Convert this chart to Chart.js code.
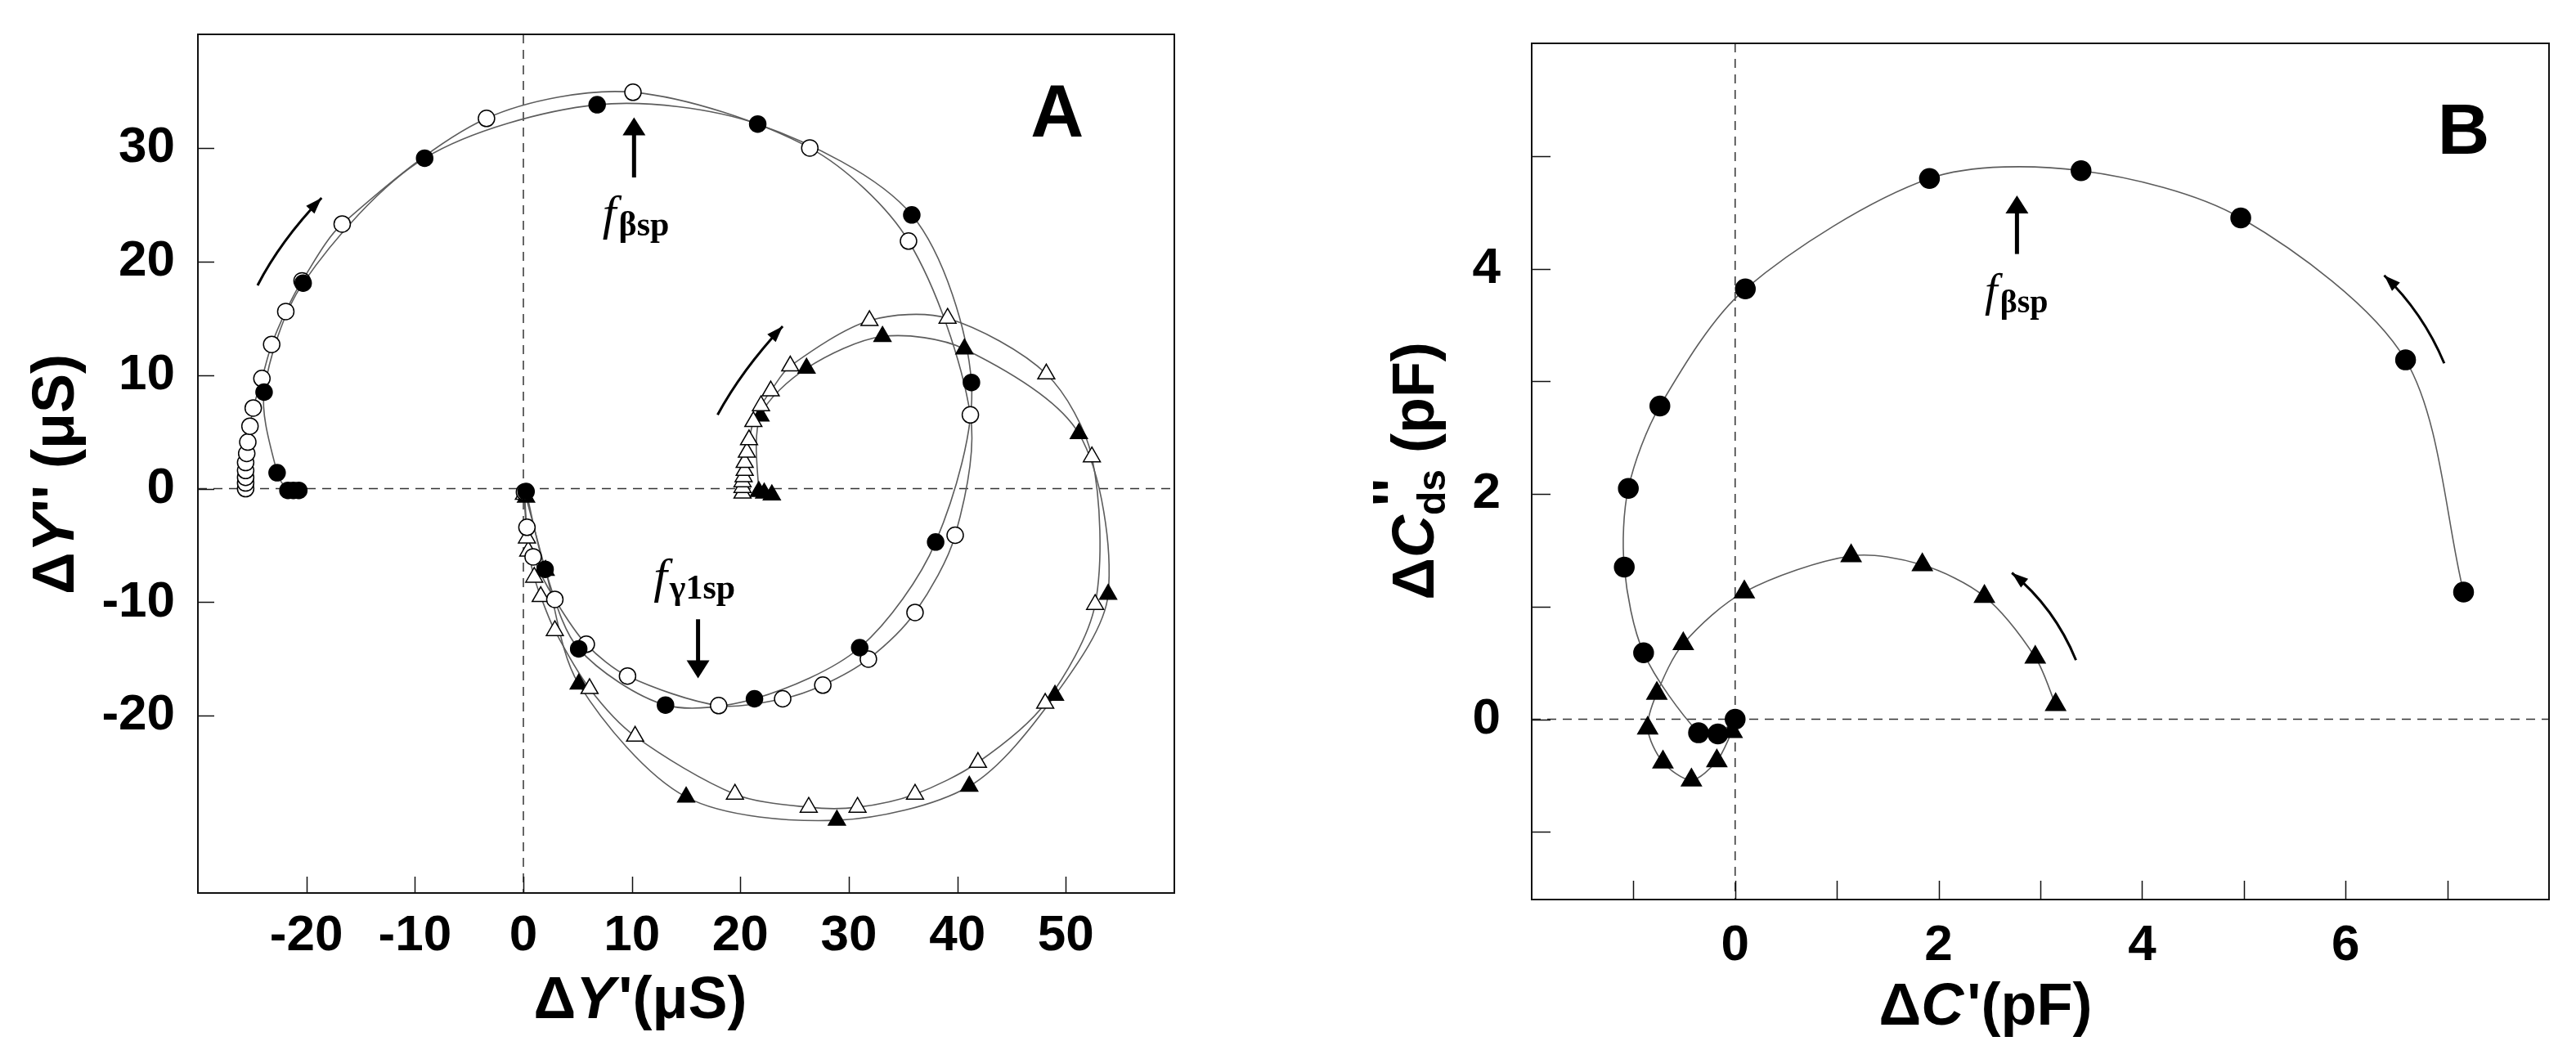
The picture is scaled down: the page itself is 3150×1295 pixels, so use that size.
<!DOCTYPE html>
<html>
<head>
<meta charset="utf-8">
<script src="https://cdn.jsdelivr.net/npm/chart.js@4.4.1/dist/chart.umd.min.js"></script>
<style>
  html, body { margin: 0; padding: 0; background: #fff; }
  #wrap { position: relative; width: 3150px; height: 1295px; background: #fff; }
  canvas { position: absolute; top: 0; }
  #chartA { left: 0; }
  #chartB { left: 1575px; }
</style>
</head>
<body>
<div id="wrap">
  <canvas id="chartA" width="1575" height="1295"></canvas>
  <canvas id="chartB" width="1575" height="1295"></canvas>
</div>
<script>
// ---- Panel A : admittance spirals, ΔY' vs ΔY'' (µS) ----
const xTicksA = [-20, -10, 0, 10, 20, 30, 40, 50];
const yTicksA = [-20, -10, 0, 10, 20, 30];

const filledCircleAX = [-20.7, -21.2, -21.7, -22.7, -23.9, -20.3, -9.1, 6.8, 21.6, 35.8, 41.3, 38.0, 31.0, 21.3, 13.1, 5.1, 2.0, 0.25];
const filledCircleAY = [-0.15, -0.15, -0.15, 1.4, 8.5, 18.1, 29.1, 33.8, 32.1, 24.1, 9.35, -4.7, -14.0, -18.5, -19.05, -14.1, -7.1, -0.25];

const openCircleAX = [-25.6, -25.6, -25.6, -25.6, -25.6, -25.5, -25.4, -25.2, -24.9, -24.1, -23.2, -21.9, -20.4, -16.7, -3.4, 10.1, 26.4, 35.5, 41.2, 39.8, 36.1, 31.8, 27.6, 23.9, 18.0, 9.6, 5.8, 2.9, 0.9, 0.33, 0.1];
const openCircleAY = [0.0, 0.5, 1.0, 1.6, 2.3, 3.1, 4.1, 5.5, 7.1, 9.7, 12.7, 15.6, 18.3, 23.3, 32.6, 34.9, 30.0, 21.8, 6.5, -4.1, -10.9, -15.0, -17.3, -18.5, -19.1, -16.5, -13.7, -9.75, -6.0, -3.4, -0.3];

const openTriangleAX = [20.2, 20.2, 20.2, 20.3, 20.4, 20.4, 20.6, 20.8, 21.2, 21.9, 22.8, 24.6, 31.9, 39.1, 48.2, 52.4, 52.7, 48.1, 41.9, 36.1, 30.8, 26.3, 19.5, 10.3, 6.1, 2.9, 1.6, 1.0, 0.45, 0.33, 0.05];
const openTriangleAY = [-0.4, 0.1, 0.6, 1.05, 1.6, 2.3, 3.2, 4.3, 5.9, 7.3, 8.6, 10.8, 14.8, 15.0, 10.1, 2.8, -10.2, -18.9, -24.1, -26.9, -28.05, -28.05, -26.9, -21.8, -17.6, -12.5, -9.5, -7.8, -5.5, -4.35, -0.5];

const filledTriangleAX = [22.9, 22.2, 21.7, 21.85, 26.1, 33.1, 40.65, 51.2, 53.9, 49.0, 41.1, 28.9, 15.0, 5.1, 2.05, 0.25];
const filledTriangleAY = [-0.55, -0.4, -0.25, 6.4, 10.6, 13.4, 12.3, 4.85, -9.3, -18.2, -26.2, -29.2, -27.15, -17.2, -7.2, -0.75];

// ---- Panel B : capacitance, ΔC' vs ΔCds'' (pF) ----
const xTicksB = [-1, 0, 1, 2, 3, 4, 5, 6, 7];
const xLabelsB = [0, 2, 4, 6];
const yTicksB = [-1, 0, 1, 2, 3, 4, 5];
const yLabelsB = [0, 2, 4];

const circleBX = [7.16, 6.59, 4.97, 3.40, 1.91, 0.10, -0.74, -1.05, -1.09, -0.90, -0.36, -0.17, 0.0];
const circleBY = [1.13, 3.19, 4.45, 4.87, 4.80, 3.82, 2.78, 2.05, 1.35, 0.59, -0.12, -0.13, 0.0];

const triangleBX = [3.15, 2.95, 2.45, 1.84, 1.14, 0.09, -0.51, -0.77, -0.86, -0.71, -0.43, -0.18, -0.03];
const triangleBY = [0.13, 0.55, 1.09, 1.37, 1.45, 1.13, 0.67, 0.23, -0.08, -0.38, -0.54, -0.37, -0.11];

const SANS = "'Liberation Sans', Arial, sans-serif";
const SERIF = "'Liberation Serif', 'Times New Roman', serif";

function pts(xs, ys) {
  return xs.map((v, i) => ({ x: v, y: ys[i] }));
}

// one dataset for the fitted curve, one for the markers on top of it
function series(xs, ys, shape, fill, radius) {
  const data = pts(xs, ys);
  return [
    { data, showLine: true, pointRadius: 0, borderColor: "#5c5c5c", borderWidth: 1.6, tension: 0.3, order: 2 },
    { data, showLine: false, pointStyle: shape, pointRadius: radius, pointHoverRadius: radius,
      backgroundColor: fill, borderColor: "#000", borderWidth: 1.5, order: 1 },
  ];
}

const decor = {
  chartA: {
    tickLen: 20,
    annotations: [
      { type: "letter", text: "A", x: 49.2, y: 31.0, size: 90 },
      { type: "arrow", x: 10.2, from: 27.4, to: 32.7 },
      { type: "flabel", x: 7.3, y: 22.84, sub: "βsp", fSize: 60, subSize: 42 },
      { type: "arrow", x: 16.1, from: -11.5, to: -16.7 },
      { type: "flabel", x: 12.0, y: -9.08, sub: "γ1sp", fSize: 60, subSize: 42 },
      { type: "curve", from: [-24.5, 17.9], ctrl: [-22.4, 21.8], to: [-18.6, 25.6] },
      { type: "curve", from: [17.9, 6.5], ctrl: [20.1, 10.4], to: [23.9, 14.3] },
    ],
    xTitle: { x: 783, y: 1245, runs: [["Δ", ""], ["Y", "italic "], ["'", "", 4], ["(μS)", ""]] },
    yTitle: { x: 90, y: 580, runs: [["Δ", ""], ["Y", "italic "], ["''", "", 0], [" (μS)", ""]] },
  },
  chartB: {
    tickLen: 23,
    annotations: [
      { type: "letter", text: "B", x: 7.16, y: 5.02, size: 88 },
      { type: "arrow", x: 2.77, from: 4.13, to: 4.65 },
      { type: "flabel", x: 2.454, y: 3.67, sub: "βsp", fSize: 56, subSize: 40 },
      { type: "curve", from: [6.97, 3.16], ctrl: [6.76, 3.61], to: [6.38, 3.94] },
      { type: "curve", from: [3.35, 0.525], ctrl: [3.14, 0.99], to: [2.72, 1.30] },
    ],
    xTitle: { x: 853, y: 1253, runs: [["Δ", ""], ["C", "italic "], ["'", "", 4], ["(pF)", ""]] },
    yTitle: { x: 178, y: 576, runs: [["Δ", ""], ["C", "italic "], ["''", "", 0, "over"], ["ds", "", 0, "sub"], [" (pF)", ""]] },
  },
};

function drawTitle(ctx, spec, rotate) {
  const runs = spec.runs.map(([text, style, gap, kind]) => {
    let font = style + "bold 72px " + SANS;
    let dy = 0;
    if (kind === "sub") { font = "bold 48px " + SANS; dy = 14; }
    if (kind === "over") { dy = -24; }
    return { text, font, gap: gap || 0, kind, dy };
  });
  let total = 0;
  for (const r of runs) {
    ctx.font = r.font;
    r.w = ctx.measureText(r.text).width;
    if (r.kind !== "over") total += r.w + r.gap;
  }
  ctx.save();
  ctx.translate(spec.x, spec.y);
  if (rotate) ctx.rotate(-Math.PI / 2);
  ctx.fillStyle = "#000";
  ctx.textBaseline = "alphabetic";
  ctx.textAlign = "left";
  let cx = -total / 2;
  runs.forEach((r, i) => {
    ctx.font = r.font;
    if (r.kind === "over") {
      const next = runs[i + 1];
      ctx.fillText(r.text, cx + (next.w - r.w) / 2, r.dy);
      return;
    }
    ctx.fillText(r.text, cx + r.gap, r.dy);
    cx += r.w + r.gap;
  });
  ctx.restore();
}

function arrowHead(ctx, tipX, tipY, angle, len, half) {
  ctx.beginPath();
  ctx.moveTo(tipX, tipY);
  ctx.lineTo(tipX - len * Math.cos(angle) + half * Math.sin(angle), tipY - len * Math.sin(angle) - half * Math.cos(angle));
  ctx.lineTo(tipX - len * Math.cos(angle) - half * Math.sin(angle), tipY - len * Math.sin(angle) + half * Math.cos(angle));
  ctx.closePath();
  ctx.fill();
}

const decorPlugin = {
  id: "decor",
  beforeDatasetsDraw(chart) {
    const { ctx, chartArea: a, scales } = chart;
    const x0 = scales.x.getPixelForValue(0);
    const y0 = scales.y.getPixelForValue(0);
    ctx.save();
    ctx.strokeStyle = "#333";
    ctx.lineWidth = 1.5;
    ctx.setLineDash([11, 8]);
    ctx.beginPath();
    ctx.moveTo(a.left, y0); ctx.lineTo(a.right, y0);
    ctx.moveTo(x0, a.top); ctx.lineTo(x0, a.bottom);
    ctx.stroke();
    ctx.restore();
  },
  afterDraw(chart) {
    const cfg = decor[chart.canvas.id];
    const { ctx, chartArea: a, scales } = chart;
    const sx = (v) => scales.x.getPixelForValue(v);
    const sy = (v) => scales.y.getPixelForValue(v);
    ctx.save();
    // frame and inward ticks
    ctx.strokeStyle = "#111";
    ctx.lineWidth = 2;
    ctx.strokeRect(a.left, a.top, a.right - a.left, a.bottom - a.top);
    ctx.lineWidth = 1.5;
    ctx.beginPath();
    scales.x.ticks.forEach((t) => {
      const px = Math.round(sx(t.value)) + 0.5;
      ctx.moveTo(px, a.bottom); ctx.lineTo(px, a.bottom - cfg.tickLen);
    });
    scales.y.ticks.forEach((t) => {
      const py = Math.round(sy(t.value)) + 0.5;
      ctx.moveTo(a.left, py); ctx.lineTo(a.left + cfg.tickLen, py);
    });
    ctx.stroke();

    ctx.fillStyle = "#000";
    ctx.strokeStyle = "#000";
    cfg.annotations.forEach((n) => {
      if (n.type === "letter") {
        ctx.font = "bold " + n.size + "px " + SANS;
        ctx.textAlign = "center";
        ctx.textBaseline = "alphabetic";
        ctx.fillText(n.text, sx(n.x), sy(n.y));
      } else if (n.type === "arrow") {
        const px = sx(n.x), y1 = sy(n.from), y2 = sy(n.to);
        const dir = y2 < y1 ? -1 : 1;
        ctx.lineWidth = 5;
        ctx.beginPath();
        ctx.moveTo(px, y1); ctx.lineTo(px, y2 - dir * 18);
        ctx.stroke();
        arrowHead(ctx, px, y2, dir < 0 ? -Math.PI / 2 : Math.PI / 2, 22, 14);
      } else if (n.type === "flabel") {
        const px = sx(n.x), py = sy(n.y);
        ctx.textAlign = "left";
        ctx.textBaseline = "alphabetic";
        ctx.font = "italic " + n.fSize + "px " + SERIF;
        ctx.fillText("f", px, py);
        const fw = ctx.measureText("f").width;
        ctx.font = "bold " + n.subSize + "px " + SERIF;
        ctx.fillText(n.sub, px + fw + 3, py + 8);
      } else if (n.type === "curve") {
        const fx = sx(n.from[0]), fy = sy(n.from[1]);
        const cx = sx(n.ctrl[0]), cy = sy(n.ctrl[1]);
        const tx = sx(n.to[0]), ty = sy(n.to[1]);
        ctx.lineWidth = 3;
        ctx.beginPath();
        ctx.moveTo(fx, fy);
        ctx.quadraticCurveTo(cx, cy, tx, ty);
        ctx.stroke();
        arrowHead(ctx, tx, ty, Math.atan2(ty - cy, tx - cx), 20, 7);
      }
    });
    ctx.restore();

    drawTitle(ctx, cfg.xTitle, false);
    drawTitle(ctx, cfg.yTitle, true);
  },
};

function makeChart(id, datasets, opt) {
  const fixedX = (scale) => { scale.height = opt.xAxisHeight; scale.paddingLeft = scale.paddingRight = scale.paddingTop = scale.paddingBottom = 0; };
  const fixedY = (scale) => { scale.width = opt.yAxisWidth; scale.paddingLeft = scale.paddingRight = scale.paddingTop = scale.paddingBottom = 0; };
  return new Chart(document.getElementById(id), {
    type: "scatter",
    data: { datasets },
    plugins: [decorPlugin],
    options: {
      responsive: false,
      animation: false,
      devicePixelRatio: 1,
      layout: { padding: { left: 0, top: opt.top, right: opt.right, bottom: 0 } },
      plugins: { legend: { display: false }, tooltip: { enabled: false } },
      scales: {
        x: {
          type: "linear",
          min: opt.xMin,
          max: opt.xMax,
          afterBuildTicks: (scale) => { scale.ticks = opt.xTicks.map((v) => ({ value: v })); },
          afterFit: fixedX,
          grid: { display: false },
          border: { display: false },
          ticks: {
            autoSkip: false,
            maxRotation: 0,
            padding: opt.xPad,
            color: "#000",
            font: { family: SANS, size: 62, weight: "bold", lineHeight: 1.2 },
            callback: (v) => (opt.xLabels.includes(v) ? String(v) : ""),
          },
        },
        y: {
          type: "linear",
          min: opt.yMin,
          max: opt.yMax,
          afterBuildTicks: (scale) => { scale.ticks = opt.yTicks.map((v) => ({ value: v })); },
          afterFit: fixedY,
          grid: { display: false },
          border: { display: false },
          ticks: {
            autoSkip: false,
            padding: opt.yPad,
            color: "#000",
            font: { family: SANS, size: 62, weight: "bold", lineHeight: 1.2 },
            callback: (v) => (opt.yLabels.includes(v) ? String(v) : ""),
          },
        },
      },
    },
  });
}

makeChart(
  "chartA",
  [
    ...series(filledCircleAX, filledCircleAY, "circle", "#000", 10),
    ...series(openCircleAX, openCircleAY, "circle", "#fff", 10),
    ...series(openTriangleAX, openTriangleAY, "triangle", "#fff", 12),
    ...series(filledTriangleAX, filledTriangleAY, "triangle", "#000", 12),
  ],
  {
    xMin: -30, xMax: 60, yMin: -35.6, yMax: 40,
    xTicks: xTicksA, xLabels: xTicksA, yTicks: yTicksA, yLabels: yTicksA,
    top: 42, right: 139, xAxisHeight: 203, yAxisWidth: 242, xPad: 8, yPad: 20,
  }
);

makeChart(
  "chartB",
  [
    ...series(circleBX, circleBY, "circle", "#000", 12),
    ...series(triangleBX, triangleBY, "triangle", "#000", 14),
  ],
  {
    xMin: -2, xMax: 8, yMin: -1.6, yMax: 6,
    xTicks: xTicksB, xLabels: xLabelsB, yTicks: yTicksB, yLabels: yLabelsB,
    top: 53, right: 33, xAxisHeight: 195, yAxisWidth: 298, xPad: 12, yPad: 30,
  }
);
</script>
</body>
</html>
